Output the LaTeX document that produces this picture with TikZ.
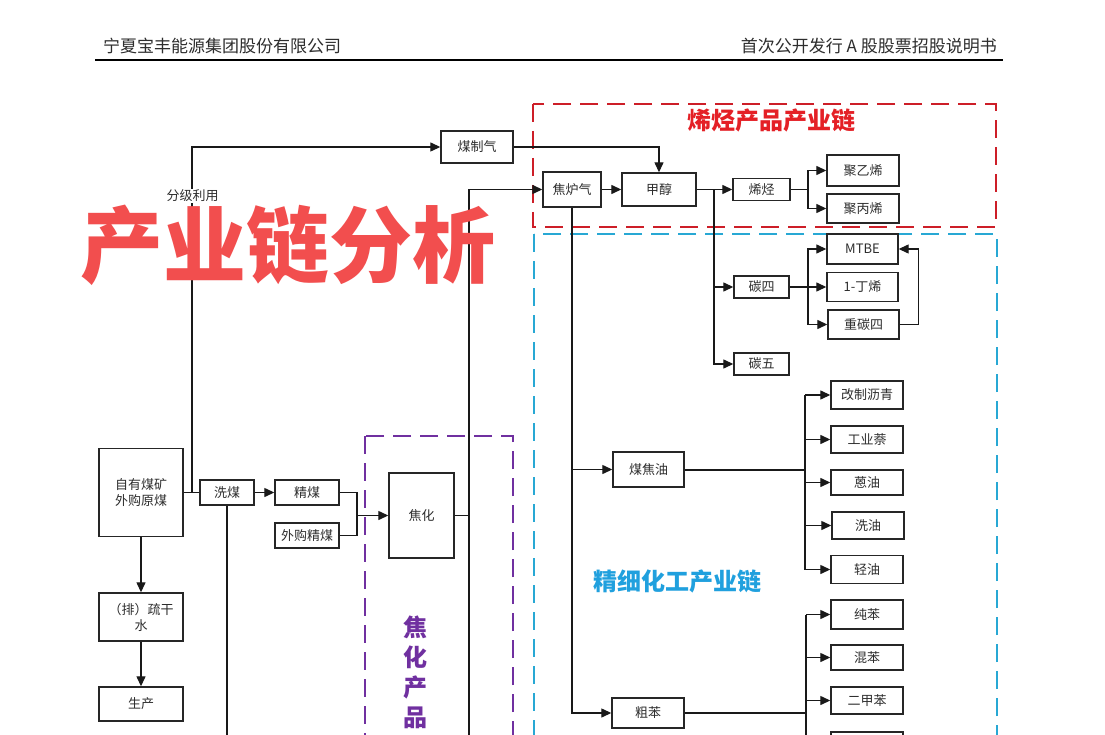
\documentclass[tikz,border=0pt]{standalone}
\usepackage{fontspec}
\setmainfont{Noto Sans CJK SC}
\usetikzlibrary{arrows.meta}
\definecolor{txt}{RGB}{45,45,45}
\definecolor{redbox}{RGB}{205,30,40}
\definecolor{redtitle}{RGB}{228,32,38}
\definecolor{bluebox}{RGB}{40,168,212}
\definecolor{bluetitle}{RGB}{32,160,222}
\definecolor{purplebox}{RGB}{112,48,160}
\definecolor{wm}{RGB}{242,78,78}
\tikzset{
  box/.style={draw=black!85, line width=1.4pt, fill=white, inner sep=0pt, align=center,
    font=\fontsize{13}{16}\selectfont, text=txt},
  conn/.style={draw=black!90, line width=1.3pt},
  arr/.style={conn, -{Triangle[length=10pt,width=9pt]}},
  thickconn/.style={draw=black!90, line width=2pt},
  zone/.style={line width=2.6pt, dash pattern=on 18pt off 9pt},
  zonetitle/.style={font=\fontsize{24}{30}\selectfont\bfseries},
}
\begin{document}
\begin{tikzpicture}[x=1pt,y=-1pt]
\useasboundingbox (0,0) rectangle (1105,735);
\clip (0,0) rectangle (1105,735);
\fill[white] (0,0) rectangle (1105,735);

% header
\node[anchor=west, font=\fontsize{17}{20}\selectfont, text=txt, inner sep=0pt] (hl) at (103,46) {宁夏宝丰能源集团股份有限公司};
\node[anchor=east, font=\fontsize{17}{20}\selectfont, text=txt, inner sep=0pt] (hr) at (997,46) {首次公开发行 A 股股票招股说明书};
\draw[line width=1.3pt] (95,60) -- (1003,60);

% zones
\draw[zone, draw=redbox] (533,104) rectangle (996,227);
\draw[zone, draw=bluebox] (534,234) rectangle (997,770);
\draw[zone, draw=purplebox] (365,436) rectangle (513,770);
\node[zonetitle, text=redtitle] (rt) at (771,120) {烯烃产品产业链};
\node[zonetitle, text=bluetitle] (bt2) at (677,581) {精细化工产业链};
\node[zonetitle, text=purplebox, align=center] (pt) at (415,672.5) {焦\\化\\产\\品};

% nodes
\node[box, minimum width=72pt, minimum height=32pt] (mzq) at (477,147) {煤制气};
\node[box, minimum width=58pt, minimum height=35pt] (jlq) at (572,189.5) {焦炉气};
\node[box, minimum width=74pt, minimum height=33pt] (jc) at (659,189.5) {甲醇};
\node[box, minimum width=57pt, minimum height=22pt] (xt) at (761.5,189.5) {烯烃};
\node[box, minimum width=72pt, minimum height=31pt] (pe) at (863,170.5) {聚乙烯};
\node[box, minimum width=72pt, minimum height=29pt] (pp) at (863,208.5) {聚丙烯};
\node[box, minimum width=55pt, minimum height=22pt] (c4) at (761.5,287) {碳四};
\node[box, minimum width=55pt, minimum height=22pt] (c5) at (761.5,364) {碳五};
\node[box, minimum width=71pt, minimum height=30pt] (mtbe) at (862.5,249) {MTBE};
\node[box, minimum width=71pt, minimum height=29pt] (bt) at (862.5,287) {1-丁烯};
\node[box, minimum width=71pt, minimum height=29pt] (zc4) at (863.5,324.5) {重碳四};

\node[box, minimum width=84pt, minimum height=88pt] (zy) at (141,492.5) {自有煤矿\\外购原煤};
\node[box, minimum width=84pt, minimum height=48pt] (ps) at (141,617) {（排）疏干\\水};
\node[box, minimum width=84pt, minimum height=34pt] (sc) at (141,704) {生产};
\node[box, minimum width=54pt, minimum height=25pt] (xm) at (227,492.5) {洗煤};
\node[box, minimum width=64pt, minimum height=25pt] (jm) at (307,492.5) {精煤};
\node[box, minimum width=64pt, minimum height=25pt] (wgjm) at (307,535.5) {外购精煤};
\node[box, minimum width=65pt, minimum height=85pt] (jh) at (421.5,515.5) {焦化};

\node[box, minimum width=71pt, minimum height=35pt] (mjy) at (648.5,469.5) {煤焦油};
\node[box, minimum width=72pt, minimum height=30pt] (cb) at (648,713) {粗苯};
\node[box, minimum width=72pt, minimum height=28pt] (gz) at (867,395) {改制沥青};
\node[box, minimum width=72pt, minimum height=27pt] (gyn) at (867,439.5) {工业萘};
\node[box, minimum width=72pt, minimum height=25pt] (ey) at (867,482.5) {蒽油};
\node[box, minimum width=72pt, minimum height=27pt] (xy) at (868,525.5) {洗油};
\node[box, minimum width=72pt, minimum height=28pt] (qy) at (867,569.5) {轻油};
\node[box, minimum width=72pt, minimum height=29pt] (cben) at (867,614.5) {纯苯};
\node[box, minimum width=72pt, minimum height=25pt] (hb) at (867,657.5) {混苯};
\node[box, minimum width=72pt, minimum height=27pt] (ejb) at (867,700.5) {二甲苯};
\node[box, minimum width=72pt, minimum height=28pt] (p4) at (867,746) {};

% coordinates
\coordinate (j1) at (192,492.5);
\coordinate (m1) at (357,515.5);
\coordinate (t1) at (469,189.5);
\coordinate (b1) at (469,760);
\coordinate (k1) at (714,189.5);
\coordinate (k2) at (808,189.5);
\coordinate (k3) at (808,287);
\coordinate (k4) at (805,469.5);
\coordinate (k5) at (806,713);
\coordinate (b5) at (806,760);
\coordinate (bx) at (227,760);

% connectors left
\draw[conn] (zy.east) -- (xm.west);
\draw[arr] (j1) |- (mzq.west);
\node[fill=white, inner sep=1pt, font=\fontsize{13}{15}\selectfont, text=txt] (fj) at (192.5,196) {分级利用};
\draw[arr] (zy.south) -- (ps.north);
\draw[arr] (ps.south) -- (sc.north);
\draw[arr] (xm.east) -- (jm.west);
\draw[conn] (xm.south) -- (bx);
\draw[conn] (jm.east) -| (m1) |- (wgjm.east);
\draw[arr] (m1) -- (jh.west);
\draw[conn] (jh.east) -- (jh.east -| t1);
\draw[conn] (b1) -- (t1);
\draw[arr] (t1) -- (jlq.west);

% top chain
\draw[arr] (mzq.east) -| (jc.north);
\draw[arr] (jlq.east) -- (jc.west);
\draw[arr] (jc.east) -- (xt.west);
\draw[arr] (k1) |- (c5.west);
\draw[arr] (k1 |- c4.west) -- (c4.west);
\draw[conn] (xt.east) -- (k2);
\draw[arr] (k2) |- (pe.west);
\draw[arr] (k2) |- (pp.west);
\draw[arr] (c4.east) -- (bt.west);
\draw[arr] (k3) |- (mtbe.west);
\draw[arr] (k3) |- (zc4.west);
\draw[arr] (zc4.east) -- ++(19,0) |- (mtbe.east);

% fine chemicals
\draw[arr] (jlq.south) |- (cb.west);
\draw[arr] (jlq.south |- mjy.west) -- (mjy.west);
\draw[thickconn] (mjy.east) -- (k4);
\draw[conn] (k4 |- gz.west) -- (k4 |- qy.west);
\foreach \n in {gz,gyn,ey,xy,qy} \draw[arr] (k4 |- \n.west) -- (\n.west);
\draw[thickconn] (cb.east) -- (k5);
\draw[conn] (k5 |- cben.west) -- (b5);
\foreach \n in {cben,hb,ejb,p4} \draw[arr] (k5 |- \n.west) -- (\n.west);

% watermark
\node[font=\fontsize{83}{90}\selectfont\bfseries, text=wm, inner sep=0pt] (wmk) at (288,245) {产业链分析};
\end{tikzpicture}
\end{document}
